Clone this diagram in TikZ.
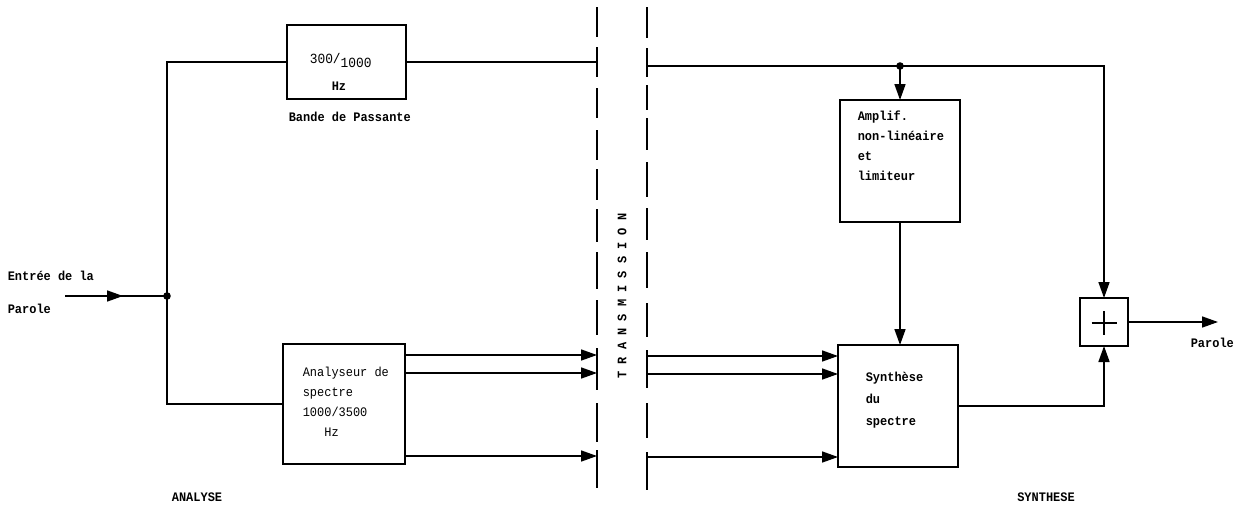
\documentclass[tikz,border=0pt]{standalone}
\usepackage{fontspec}
\setmonofont{Liberation Mono}[FakeStretch=0.92]
\usetikzlibrary{arrows.meta}
\begin{document}
\begin{tikzpicture}[x=1pt,y=-1pt,
  line width=1.6pt,
  box/.style={draw, rectangle, inner sep=0pt, outer sep=0pt, line width=1.8pt},
  arr/.style={-{Triangle[length=16pt,width=11pt]}},
  lbl/.style={inner sep=0pt, font=\ttfamily\bfseries\fontsize{13}{20}\selectfont},
  lblr/.style={inner sep=0pt, font=\ttfamily\fontsize{13}{20}\selectfont},
  dashseg/.style={line width=1.8pt}
]
\useasboundingbox (0,0) rectangle (1238,506);

% boxes
\node[box, minimum width=119pt, minimum height=74pt] (filt) at (346.5,62) {};
\node[box, minimum width=122pt, minimum height=120pt] (ana) at (344,404) {};
\node[box, minimum width=120pt, minimum height=122pt] (amp) at (900,161) {};
\node[box, minimum width=120pt, minimum height=122pt] (syn) at (898,406) {};
\node[box, minimum width=48pt, minimum height=48pt] (plus) at (1104,322) {};
\draw[line width=1.3pt] (plus.center) +(-12.5,1) -- +(12.5,1)
      (plus.center) +(0,-11) -- +(0,13);

% texts
\node[lblr, anchor=base west, font=\ttfamily\fontsize{14}{20}\selectfont] (f1) at (309,63) {300/\raisebox{-4pt}{1000}};
\node[lbl, anchor=base west] (f2) at (331,90) {Hz};
\node[lbl, anchor=base west] (bp) at (288,121) {Bande de Passante};
\node[lbl, anchor=base west] (e1) at (7,280) {Entrée de la};
\node[lbl, anchor=base west] (e2) at (7,313) {Parole};
\node[lblr, anchor=north west, align=left] (anat) at (302,366)
  {Analyseur de\\spectre\\1000/3500\\\phantom{xxx}Hz};
\node[lbl, anchor=north west, align=left] (ampt) at (857,110)
  {Amplif.\\non-linéaire\\et\\limiteur};
\node[lbl, anchor=north west, align=left, font=\ttfamily\bfseries\fontsize{13}{22}\selectfont] (synt) at (865,371)
  {Synthèse\\du\\spectre};
\node[lbl, anchor=base] (analyse) at (197,501) {ANALYSE};
\node[lbl, anchor=base] (synthese) at (1046,501) {SYNTHESE};
\node[lbl, anchor=base west] (pout) at (1190,347) {Parole};
\node[lbl, rotate=90] (trans) at (622,296) {T R A N S M I S S I O N};

% dashed transmission lines
\foreach \a/\b in {7/37,47/77,88/118,130/160,169/200,209/242,252/289,300/335,348/390,403/442,450/488}
  \draw[dashseg] (597,\a) -- (597,\b);
\foreach \a/\b in {7/38,48/77,85/110,118/150,162/197,208/240,252/288,303/337,350/388,403/438,452/490}
  \draw[dashseg] (647,\a) -- (647,\b);

% coordinates
\coordinate (in) at (65,296);
\coordinate (inmid) at (123,296);
\coordinate (jin) at (167,296);
\coordinate (LT) at (597,63);
\coordinate (L1) at (597,355);
\coordinate (L2) at (597,373);
\coordinate (L3) at (597,456);
\coordinate (RT) at (647,66);
\coordinate (jt) at (900,66);
\coordinate (R1) at (647,356);
\coordinate (R2) at (647,374);
\coordinate (R3) at (647,457);
\coordinate (out) at (1218,322);

% analysis side
\draw (in) -- (jin);
\draw[arr] (in) -- (inmid);
\draw (filt.west) -| (jin) |- (ana.west);
\fill (jin) circle (3.8);
\draw (filt.east) -- (filt.east -| LT);
\draw[arr] (ana.east |- L1) -- (L1);
\draw[arr] (ana.east |- L2) -- (L2);
\draw[arr] (ana.east |- L3) -- (L3);

% synthesis side
\draw[arr] (RT) -| (plus.north);
\draw[arr] (jt) -- (amp.north);
\fill (jt) circle (3.8);
\draw[arr] (amp.south) -- (amp.south |- syn.north);
\draw[arr] (R1) -- (syn.west |- R1);
\draw[arr] (R2) -- (syn.west |- R2);
\draw[arr] (R3) -- (syn.west |- R3);
\draw[arr] (syn.east) -| (plus.south);
\draw[arr] (plus.east) -- (out);
\end{tikzpicture}
\end{document}
